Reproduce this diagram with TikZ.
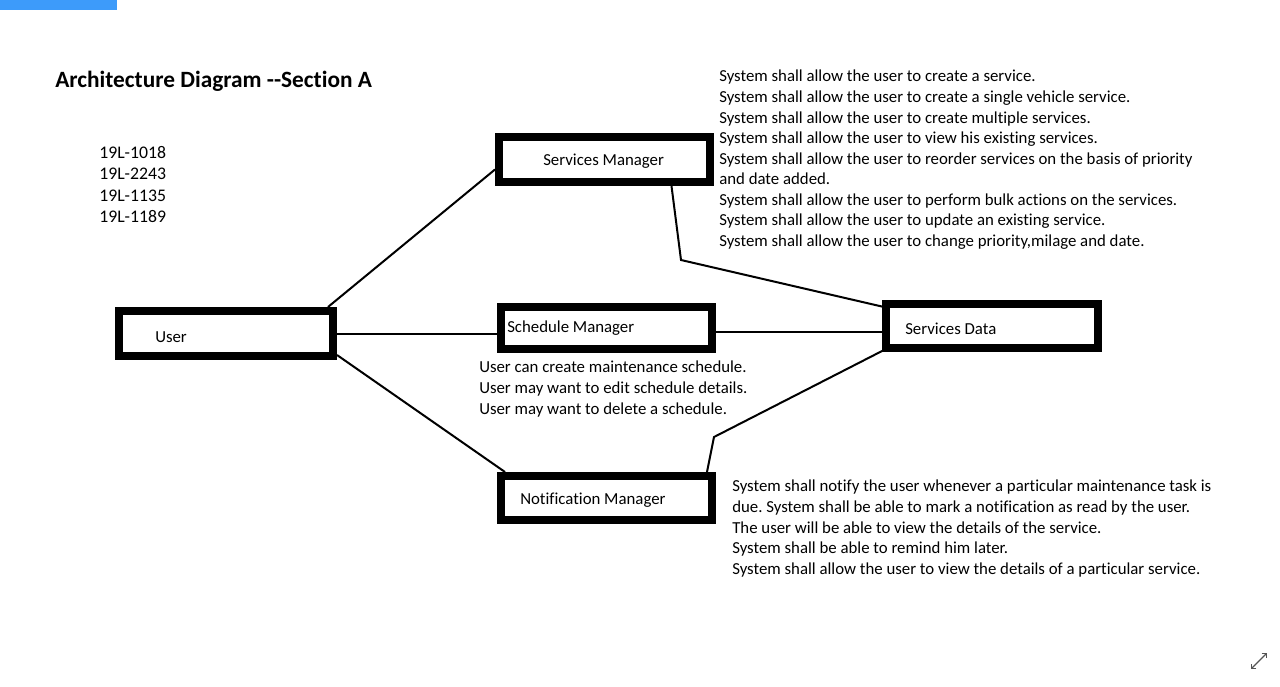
\documentclass[tikz,border=0pt]{standalone}
\usepackage{fontspec}
\setmainfont[Ligatures={TeX,NoCommon}]{Carlito}
\usepackage{xcolor}
\definecolor{TabBlue}{HTML}{3D9BFA}
\definecolor{IconGray}{HTML}{555555}
\usetikzlibrary{arrows.meta,positioning,calc}
\frenchspacing

\begin{document}
\begin{tikzpicture}[x=0.75pt,y=-0.75pt,>=Latex,
  comp/.style={draw,line width=6pt,fill=white,minimum width=158.25pt,minimum height=33pt,inner sep=0pt},
  lbl/.style={inner sep=0pt,anchor=base west,font=\fontsize{12.6}{15.4}\selectfont},
  notes/.style={inner sep=0pt,anchor=north west,align=left,font=\fontsize{12.6}{15.4}\selectfont},
  link/.style={line width=1.5pt}]
\useasboundingbox (0,0) rectangle (1280,686);
\fill[TabBlue] (0,0) rectangle (117,10);
% heading and group
\node[lbl,font=\fontsize{17.5}{21}\selectfont\bfseries] (title) at (55,87) {Architecture Diagram -{}-Section A};
\node[notes,font=\fontsize{13.3}{16}\selectfont] (ids) at (99,146) {19L-1018\\19L-2243\\19L-1135\\19L-1189};
% components
\node[comp,minimum width=160.5pt,minimum height=33.75pt] (user) at (226,333.5) {};
\node[comp,minimum height=33.75pt] (sm) at (604.5,159.5) {};
\node[comp,minimum height=31.5pt] (sched) at (606.5,328) {};
\node[comp,minimum width=159pt] (sd) at (992,326) {};
\node[comp] (nm) at (606.5,498) {};
\node[lbl] (userlbl) at (155,342) {User};
\node[lbl] (smlbl) at (543,165) {Services Manager};
\node[lbl] (schedlbl) at (507,332) {Schedule Manager};
\node[lbl] (sdlbl) at (905,334) {Services Data};
\node[lbl] (nmlbl) at (520,504) {Notification Manager};
% requirements
\node[notes] (smnotes) at (719,70) {System shall allow the user to create a service.\\
System shall allow the user to create a single vehicle service.\\
System shall allow the user to create multiple services.\\
System shall allow the user to view his existing services.\\
System shall allow the user to reorder services on the basis of priority\\
and date added.\\
System shall allow the user to perform bulk actions on the services.\\
System shall allow the user to update an existing service.\\
System shall allow the user to change priority,milage and date.};
\node[notes] (schednotes) at (479,361) {User can create maintenance schedule.\\
User may want to edit schedule details.\\
User may want to delete a schedule.};
\node[notes] (nmnotes) at (732,480) {System shall notify the user whenever a particular maintenance task is\\
due. System shall be able to mark a notification as read by the user.\\
The user will be able to view the details of the service.\\
System shall be able to remind him later.\\
System shall allow the user to view the details of a particular service.};
% connectors
\coordinate (smbend) at (681,260);
\coordinate (nmbend) at (714,437);
\draw[link] ($(user.north east)+(-9,0)$) -- ($(sm.west)+(0,10)$);
\draw[link] (user.east) -- (user.east -| sched.west);
\draw[link] ($(user.south east)+(0,-5)$) -- ($(nm.north west)+(8,0)$);
\draw[link] ($(sched.east)+(0,4)$) -- ($(sd.west)+(0,6)$);
\draw[link] ($(sm.south)+(67,0)$) -- (smbend) -- ($(sd.north west)+(2,7)$);
\draw[link] ($(nm.north east)+(-9,0)$) -- (nmbend) -- ($(sd.south west)+(2,-2)$);
% expand icon
\draw[IconGray,line width=0.9pt,{Straight Barb[length=2.5pt]}-{Straight Barb[length=2.5pt]}] (1251,669) -- (1267,653);
\end{tikzpicture}
\end{document}
